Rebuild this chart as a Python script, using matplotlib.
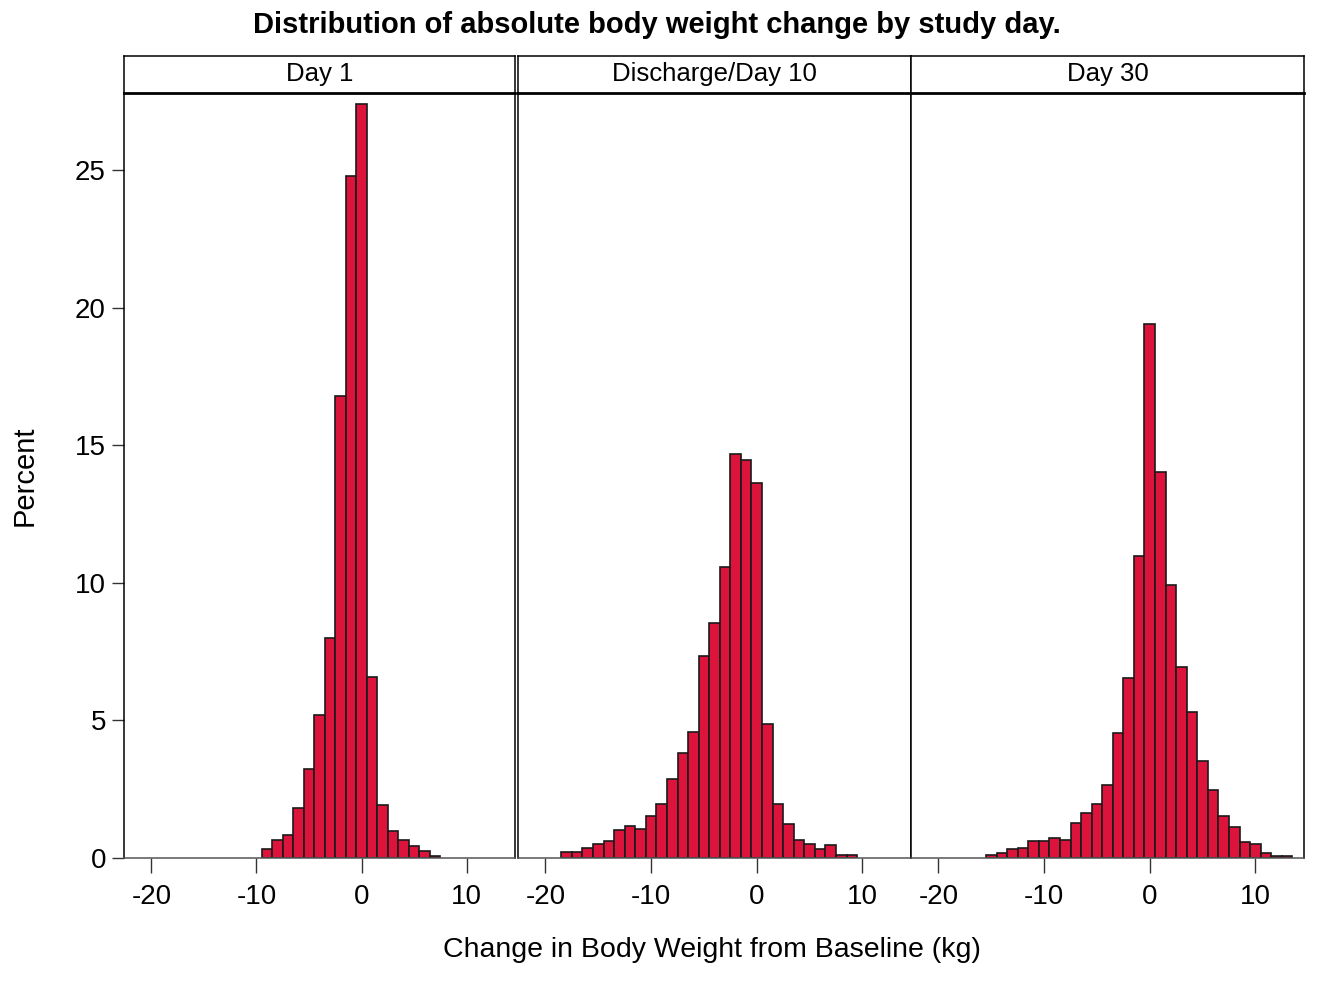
import numpy as np
import matplotlib
matplotlib.use("Agg")
import matplotlib.pyplot as plt

plt.rcParams['font.family'] = ['Liberation Sans Narrow', 'Liberation Sans', 'DejaVu Sans']
plt.rcParams['axes.unicode_minus'] = False

# bin centres (kg) and percent per bin
day1_x = list(range(-9, 8))
day1_pct = [0.33, 0.65, 0.83, 1.83, 3.22, 5.21, 8.01, 16.8, 24.8, 27.4,
            6.56, 1.92, 0.99, 0.65, 0.45, 0.24, 0.09]

day10_x = list(range(-18, 10))
day10_pct = [0.21, 0.21, 0.38, 0.52, 0.61, 1.0, 1.15, 1.04, 1.53, 1.96,
             2.88, 3.82, 4.58, 7.33, 8.54, 10.57, 14.69, 14.45, 13.63, 4.87,
             1.96, 1.24, 0.67, 0.52, 0.33, 0.46, 0.1, 0.1]

day30_x = list(range(-15, 14))
day30_pct = [0.12, 0.19, 0.31, 0.36, 0.62, 0.62, 0.74, 0.64, 1.26, 1.65,
             1.95, 2.67, 4.55, 6.54, 10.98, 19.39, 14.02, 9.93, 6.93, 5.32,
             3.53, 2.48, 1.51, 1.13, 0.58, 0.51, 0.19, 0.09, 0.09]

panels = ['Day 1', 'Discharge/Day 10', 'Day 30']
xs = [day1_x, day10_x, day30_x]
ys = [day1_pct, day10_pct, day30_pct]

fig = plt.figure(figsize=(13.17, 9.89), dpi=100)
W, H = 1317, 989

lefts = [124, 518, 911]
rights = [515, 911, 1304]
top, bottom, head_top = 93, 858, 56

for i in range(3):
    l, r = lefts[i], rights[i]
    ax = fig.add_axes([l / W, 1 - bottom / H, (r - l) / W, (bottom - top) / H])
    ax.bar(xs[i], ys[i], width=1.0, color='#DC143C', edgecolor='#1a1a1a',
           linewidth=1.2, zorder=2)
    ax.set_xlim(-22.6, 14.6)
    ax.set_ylim(0, 27.8)
    ax.set_xticks([-20, -10, 0, 10])
    ax.tick_params(axis='x', direction='out', length=11, width=1,
                   color='#333333', labelsize=20, pad=8)
    for s in ax.spines.values():
        s.set_color('black')
        s.set_linewidth(1.1)
    ax.spines['bottom'].set_color('#555555')
    if i == 0:
        ax.set_yticks([0, 5, 10, 15, 20, 25])
        ax.tick_params(axis='y', direction='out', length=9, width=1,
                       color='#333333', labelsize=20, pad=4)
        ax.set_ylabel('Percent', fontsize=21, labelpad=26)
    else:
        ax.set_yticks([])

    hx = fig.add_axes([l / W, 1 - top / H, (r - l) / W, (top - head_top) / H])
    hx.set_xticks([])
    hx.set_yticks([])
    for s in hx.spines.values():
        s.set_color('black')
        s.set_linewidth(1.1)
    hx.spines['bottom'].set_linewidth(2.0)
    hx.text(0.5, 0.5, panels[i], ha='center', va='center', fontsize=18.5,
            transform=hx.transAxes)

fig.text(712 / W, 1 - 950 / H, 'Change in Body Weight from Baseline (kg)',
         ha='center', va='center', fontsize=20.5)
fig.text(657 / W, 1 - 25 / H, 'Distribution of absolute body weight change by study day.',
         ha='center', va='center', fontsize=21, fontweight='bold')

fig.savefig('out.png', dpi=100)
